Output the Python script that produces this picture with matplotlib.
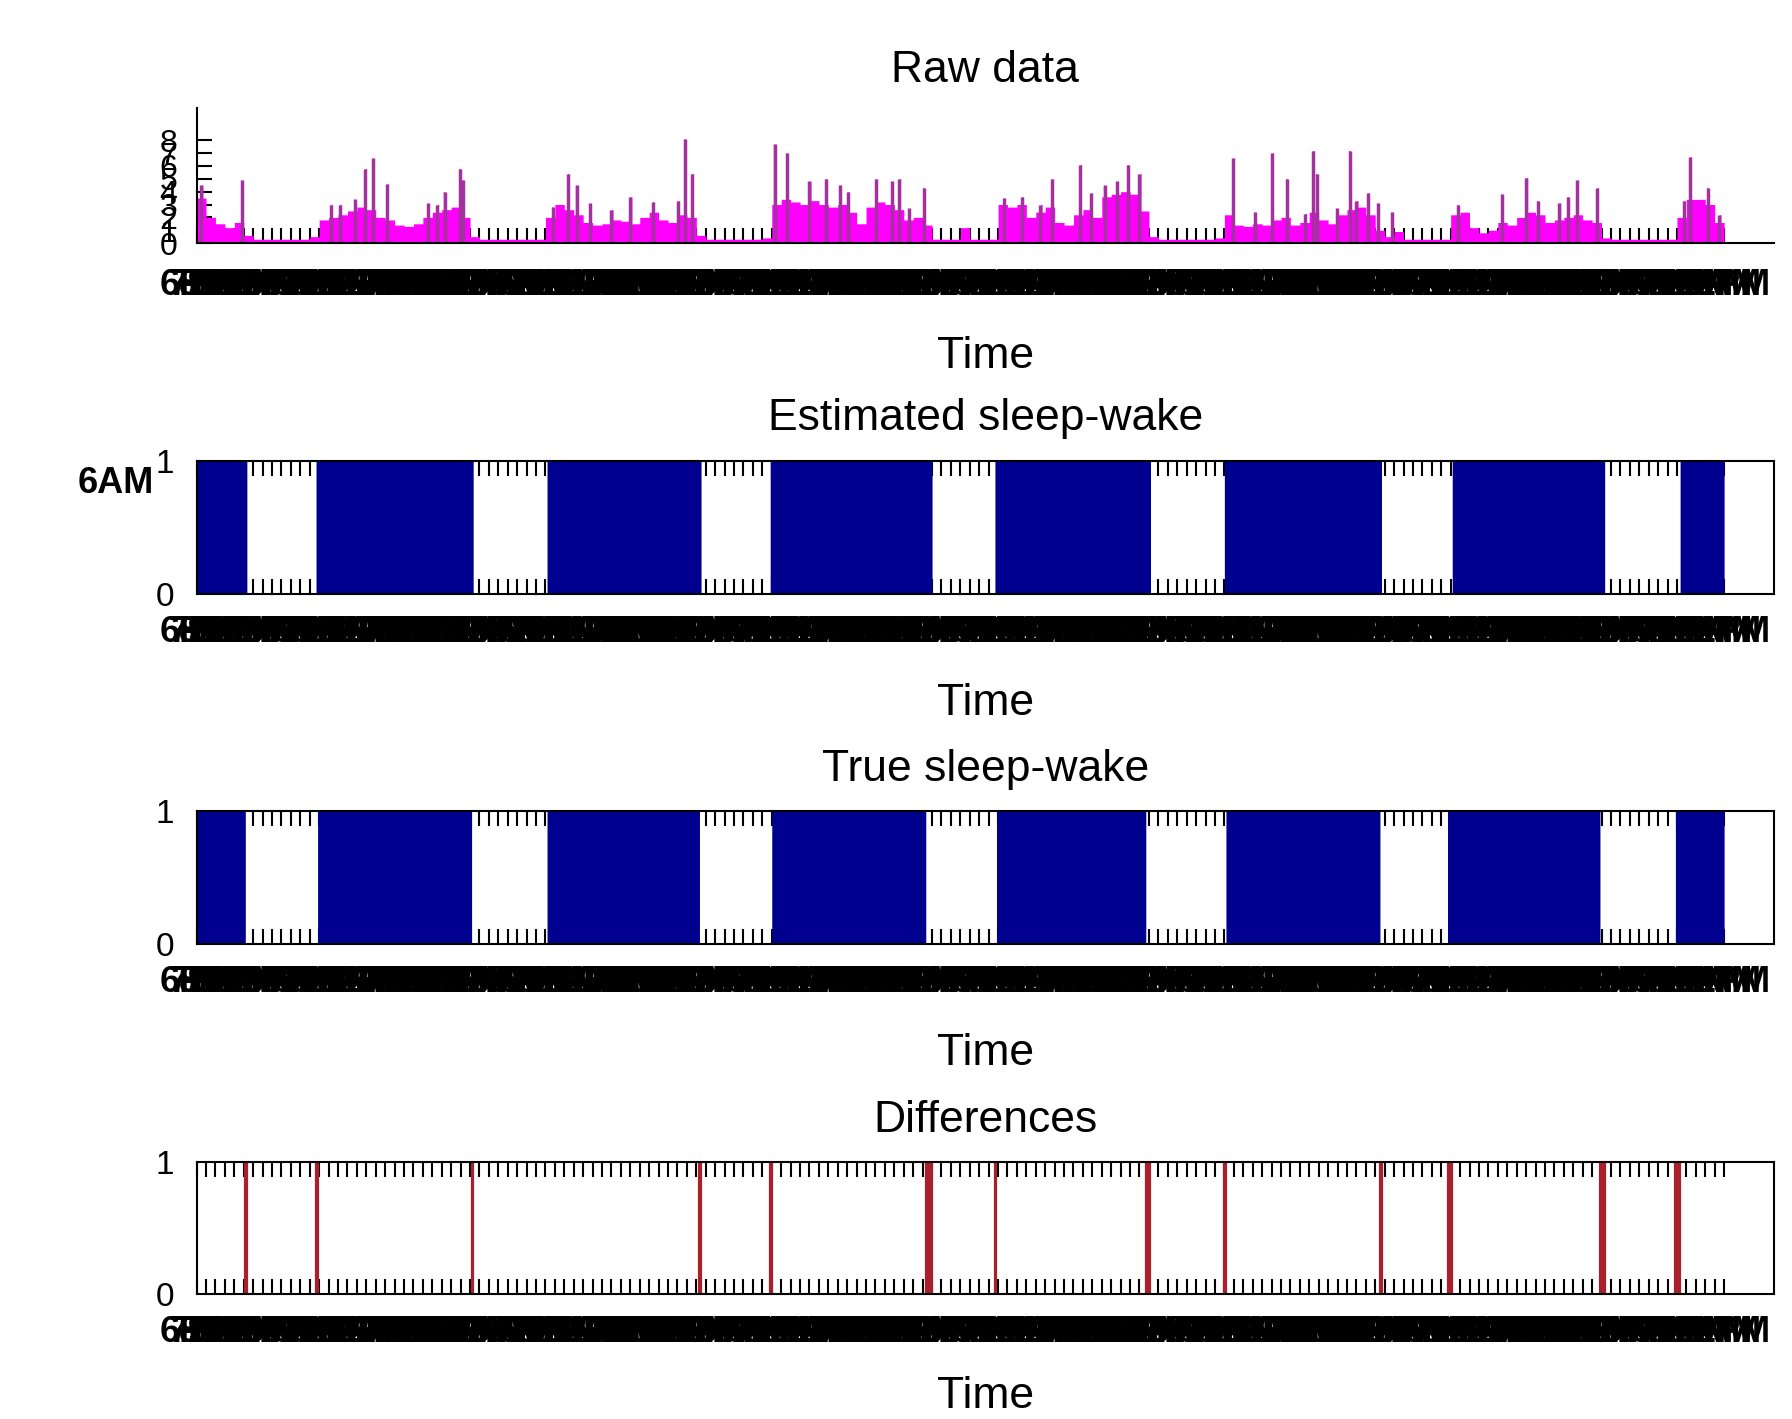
import numpy as np
import matplotlib
matplotlib.use("Agg")
import matplotlib.pyplot as plt

plt.rcParams["font.family"] = ["Liberation Sans", "DejaVu Sans"]

# recording starts at 6PM, one epoch = 10 minutes, data in hours
start_hour = 18
t_end = 162
x_max = 167.3
epoch = 1 / 6

# raw activity: hourly background level
hourly_level = [
    3.5, 2.0, 1.5, 1.2, 1.6,
    0.6, 0.3, 0.3, 0.3, 0.3, 0.3, 0.3, 0.5,
    1.8, 2.0, 2.2, 2.5, 2.8, 2.6, 2.0, 1.8, 1.4, 1.3, 1.5, 2.0, 2.4, 2.6, 2.8, 2.0,
    0.5, 0.3, 0.3, 0.3, 0.3, 0.3, 0.3, 0.3,
    2.0, 3.0, 2.6, 2.2, 1.6, 1.4, 1.5, 1.8, 1.7, 1.5, 2.0, 2.4, 1.8, 1.6, 2.2, 2.0,
    0.6, 0.3, 0.3, 0.3, 0.3, 0.3, 0.3, 0.4,
    3.0, 3.4, 3.2, 3.0, 3.3, 3.0, 2.8, 3.0, 2.4, 1.5, 2.8, 3.2, 3.0, 2.6, 1.8, 2.0, 1.4,
    0.3, 0.3, 0.3, 1.2, 0.3, 0.3, 0.3,
    3.0, 2.8, 3.0, 2.0, 2.4, 2.8, 1.6, 1.4, 2.2, 2.6, 2.0, 3.6, 3.8, 4.0, 3.8, 2.5,
    0.5, 0.3, 0.3, 0.3, 0.3, 0.3, 0.3, 0.4,
    2.2, 1.4, 1.3, 1.5, 1.4, 1.8, 2.0, 1.4, 1.6, 2.4, 1.8, 1.5, 2.2, 2.6, 2.8, 2.2, 1.0,
    0.5, 0.9, 0.3, 0.3, 0.3, 0.3, 0.3,
    2.2, 2.4, 1.2, 0.8, 1.0, 1.6, 1.4, 2.0, 2.4, 2.2, 1.6, 1.8, 2.0, 2.2, 1.8, 1.6,
    0.4, 0.3, 0.3, 0.3, 0.3, 0.3, 0.3, 0.3,
    2.0, 3.4, 3.4, 3.0, 1.6,
]

# activity spikes (hour, value)
peak_time = [0.5, 4.8, 14.3, 15.2, 16.8, 17.9, 18.7, 20.2, 24.5, 25.5, 26.3, 27.9, 28.3,
             37.8, 39.4, 40.3, 41.7, 44.0, 46.0, 48.4, 51.1, 51.8, 52.5,
             61.3, 62.6, 65.0, 66.7, 68.2, 69.1, 72.1, 73.7, 74.5, 75.6, 77.1,
             85.6, 87.5, 89.5, 90.7, 93.7, 94.9, 96.3, 97.6, 98.8, 100.0,
             109.9, 112.2, 114.1, 115.6, 117.5, 118.4, 118.8, 120.9, 122.3, 123.0, 124.2, 125.3, 126.8,
             133.8, 138.4, 141.0, 142.3, 144.5, 145.4, 146.4, 148.5,
             157.7, 158.4, 160.3, 161.5]
peak_value = [4.5, 4.9, 3.0, 3.0, 3.4, 5.8, 6.6, 4.6, 3.1, 3.0, 4.0, 5.8, 4.9,
              2.8, 5.4, 4.5, 3.1, 2.6, 3.6, 3.2, 3.3, 8.1, 5.4,
              7.7, 7.0, 4.8, 5.0, 4.5, 4.0, 5.0, 4.8, 5.0, 2.7, 4.3,
              3.5, 3.6, 3.0, 5.0, 6.1, 3.9, 4.5, 4.8, 6.1, 5.4,
              6.6, 2.4, 7.0, 5.0, 2.3, 7.2, 5.4, 2.7, 7.2, 3.3, 3.9, 3.1, 2.4,
              3.0, 3.8, 5.1, 3.3, 3.1, 3.6, 4.9, 4.3,
              3.3, 6.7, 4.3, 2.2]

# sleep periods (start hour, end hour)
est_sleep = [(5.33, 12.67), (29.33, 37.17), (53.5, 60.83), (78.0, 84.67),
             (101.17, 109.0), (125.67, 133.17), (149.33, 157.33)]
true_sleep = [(5.17, 12.83), (29.17, 37.17), (53.33, 61.0), (77.33, 84.83),
              (100.67, 109.17), (125.5, 132.67), (148.83, 156.83)]

t = np.arange(0, t_end, epoch)
centre = t + epoch / 2
edges = np.append(t, t_end)

raw = np.repeat(np.array(hourly_level, dtype=float), 6)
for pt, pv in zip(peak_time, peak_value):
    raw[int(pt / epoch)] = pv


def wake_from(intervals):
    w = np.ones_like(t)
    for s, e in intervals:
        w[(centre >= s) & (centre < e)] = 0
    return w


est = wake_from(est_sleep)
true = wake_from(true_sleep)
diff = (est != true).astype(float)

tick_hours = np.arange(0, t_end + 1)
tick_labels = []
for h in tick_hours:
    hr = (start_hour + h) % 24
    tick_labels.append(f"{hr % 12 or 12}{'AM' if hr < 12 else 'PM'}")

navy = "#00008f"
magenta = "#ff00ff"
spike = "#a0339c"
red = "#a8202c"

fig = plt.figure(figsize=(17.92, 14.19), dpi=100)
left, width = 0.1097, 0.8803
ax_raw = fig.add_axes([left, 0.8287, width, 0.0951])
ax_est = fig.add_axes([left, 0.5812, width, 0.0942])
ax_true = fig.add_axes([left, 0.3347, width, 0.0935])
ax_diff = fig.add_axes([left, 0.0881, width, 0.0927])


def style_time_axis(ax, title, title_pad=22, tick_pad=15, label_pad=24):
    ax.set_xlim(0, x_max)
    ax.set_axisbelow(True)
    ax.set_xticks(tick_hours)
    ax.set_xticklabels(tick_labels, fontsize=26, fontweight="bold")
    ax.tick_params(axis="x", direction="in", length=11, width=1.5, pad=tick_pad)
    ax.set_xlabel("Time", fontsize=32, labelpad=label_pad)
    ax.set_title(title, fontsize=32, pad=title_pad)


# raw data
ax_raw.fill_between(edges, 0, np.append(raw, raw[-1]), step="post",
                    color=magenta, linewidth=0)
ax_raw.vlines(peak_time, 0, peak_value, color=spike, linewidth=2.5)
ax_raw.set_ylim(0, 10.5)
ax_raw.set_yticks(np.arange(0, 9))
ax_raw.set_yticklabels([str(v) for v in range(9)], fontsize=23)
ax_raw.tick_params(axis="y", direction="in", length=11, width=1.5, pad=14)
ax_raw.spines["top"].set_visible(False)
ax_raw.spines["right"].set_visible(False)
for s in ["left", "bottom"]:
    ax_raw.spines[s].set_linewidth(1.5)
style_time_axis(ax_raw, "Raw data", title_pad=19, tick_pad=18)

# sleep-wake panels
for ax, vals, title in [(ax_est, est, "Estimated sleep-wake"),
                        (ax_true, true, "True sleep-wake")]:
    ax.fill_between(edges, 0, np.append(vals, vals[-1]), step="post",
                    color=navy, linewidth=0)
    ax.set_ylim(0, 1)
    ax.set_yticks([0, 1])
    ax.set_yticklabels(["0", "1"], fontsize=24)
    ax.tick_params(axis="y", length=0, pad=16)
    ax.tick_params(axis="x", top=True)
    for s in ax.spines.values():
        s.set_linewidth(1.5)
    style_time_axis(ax, title)

# differences
ax_diff.bar(t[diff > 0], 1, width=epoch, align="edge", color=red,
            edgecolor=red, linewidth=1.6)
ax_diff.set_ylim(0, 1)
ax_diff.set_yticks([0, 1])
ax_diff.set_yticklabels(["0", "1"], fontsize=24)
ax_diff.tick_params(axis="y", length=0, pad=16)
ax_diff.tick_params(axis="x", top=True)
for s in ax_diff.spines.values():
    s.set_linewidth(1.5)
style_time_axis(ax_diff, "Differences", label_pad=19)

fig.text(0.0435, 0.659, "6AM", fontsize=26, fontweight="bold", va="center", ha="left")

fig.savefig("out.png", dpi=100)
